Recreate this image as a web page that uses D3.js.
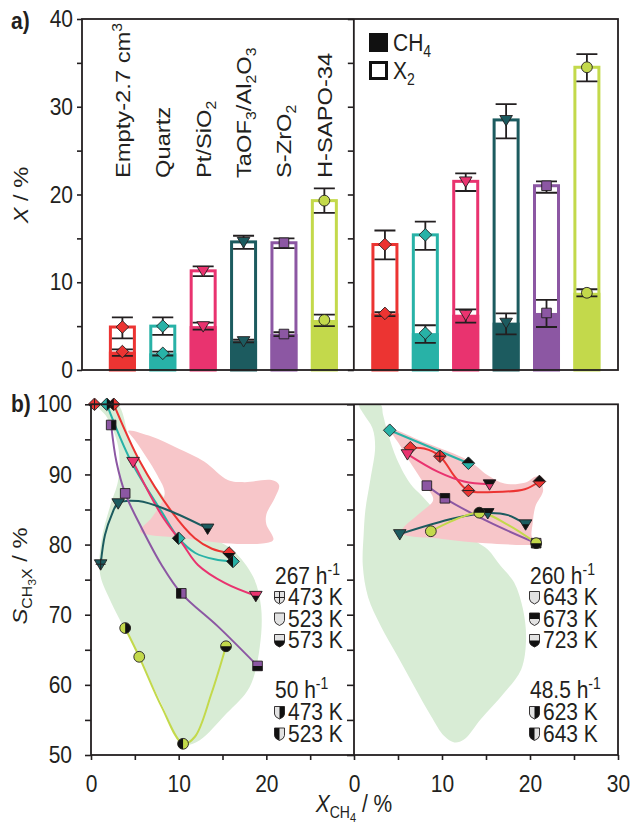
<!DOCTYPE html>
<html>
<head>
<meta charset="utf-8">
<script src="https://cdn.jsdelivr.net/npm/d3@7"></script>
<style>
  body { margin: 0; background: #fff; }
  svg { display: block; }
</style>
</head>
<body>
<svg id="chart" width="632" height="825"></svg>
<script>
// catalysts, colours and marker shapes (shared by panel a and b)
var catalysts = ["Empty-2.7 cm3", "Quartz", "Pt/SiO2", "TaOF3/Al2O3", "S-ZrO2", "H-SAPO-34"];
var catalystLabels = [
  [["Empty-2.7 cm"], ["3", "sup"]],
  [["Quartz"]],
  [["Pt/SiO"], ["2", "sub"]],
  [["TaOF"], ["3", "sub"], ["/Al"], ["2", "sub"], ["O"], ["3", "sub"]],
  [["S-ZrO"], ["2", "sub"]],
  [["H-SAPO-34"]]
];
var colors = ["#ec3432", "#28b2a7", "#e9336f", "#1c5b5f", "#8c57a3", "#c3d94b"];
var shapes = ["diamond", "diamond", "triangle", "triangle", "square", "circle"];

// panel a, low temperature (left) and high temperature (right) conversions
var lowX2 = [4.9, 5.0, 11.3, 14.6, 14.5, 19.3];
var lowX2Err = [[3.6, 6.0], [4.0, 6.0], [10.7, 11.8], [13.8, 15.3], [13.9, 15.0], [17.9, 20.7]];
var lowCH4 = [2.1, 1.9, 5.0, 3.3, 4.1, 5.7];
var lowCH4Err = [[1.6, 2.35], [1.65, 2.1], [4.6, 5.4], [3.15, 3.45], [3.85, 4.3], [5.0, 6.3]];

var highX2 = [14.3, 15.4, 21.5, 28.5, 21.0, 34.5];
var highX2Err = [[12.6, 15.9], [13.7, 16.9], [20.4, 22.4], [26.4, 30.3], [20.2, 21.5], [32.9, 36.0]];
var highCH4 = [6.45, 4.2, 6.3, 5.4, 6.5, 8.8];
var highCH4Err = [[6.15, 6.6], [3.1, 5.1], [5.4, 6.9], [4.05, 6.45], [4.9, 8.0], [8.4, 9.2]];

var aTicks = [0, 5, 10, 15, 20, 25, 30, 35, 40];

// panel b, measured points [X_CH4, S_CH3X, temperature pattern]
var lowPoints = [
  [[0.4, 100, "cross"], [2.6, 100, "left"], [15.75, 78.8, "bottom"]],
  [[1.8, 100, "right"], [10.0, 80.9, "left"], [16.2, 77.6, "left"]],
  [[4.8, 91.8, "plain"], [18.8, 72.7, "bottom"]],
  [[1.1, 77.2, "cross"], [3.1, 85.9, "plain"], [13.3, 82.3, "bottom"]],
  [[2.3, 97.05, "right"], [3.9, 87.3, "plain"], [10.3, 73.05, "left"], [19.0, 62.7, "bottom"]],
  [[3.9, 68.1, "right"], [5.5, 64.0, "plain"], [10.5, 51.6, "left"], [15.4, 65.5, "bottom"]]
];
// fitted guide curves
var lowCurves = [
  [[2.6, 100], [5.6, 91.8], [9.2, 84.7], [11.85, 80.9], [13.8, 79.4], [15.75, 78.8]],
  [[1.8, 100], [4.6, 91.8], [8.05, 84.7], [10.0, 80.9], [11.9, 78.8], [14.1, 77.9], [16.2, 77.6]],
  [[4.8, 91.8], [8.0, 84.3], [10.5, 80.0], [12.2, 77.1], [15.3, 74.5], [18.8, 72.7]],
  [[1.1, 77.2], [1.6, 81.4], [2.35, 84.2], [3.1, 85.9], [5.4, 86.2], [8.8, 84.9], [13.3, 82.3]],
  [[2.3, 97.05], [2.9, 91.8], [3.9, 87.3], [5.8, 82.3], [8.05, 77.1], [10.3, 73.05], [14.5, 68.3], [19.0, 62.7]],
  [[3.9, 68.1], [5.5, 64.0], [8.05, 56.9], [10.5, 51.6], [11.85, 52.6], [13.75, 58.8], [15.4, 65.5]]
];
var highPoints = [
  [[6.4, 93.8, "plain"], [9.76, 92.6, "cross"], [13.0, 87.7, "hline"], [21.07, 89.0, "top"]],
  [[4.06, 96.3, "plain"], [13.0, 91.6, "top"]],
  [[6.07, 92.9, "plain"], [15.4, 88.6, "top"]],
  [[5.2, 81.5, "plain"], [15.2, 84.5, "top"], [19.5, 82.9, "bottom"]],
  [[8.28, 88.4, "plain"], [10.33, 86.6, "top"], [20.7, 80.2, "bottom"]],
  [[8.73, 81.9, "plain"], [14.24, 84.55, "top"], [20.7, 80.2, "bottom"]]
];
var highCurves = [
  [[6.4, 93.8], [7.97, 93.7], [9.76, 92.6], [11.5, 89.6], [13.0, 87.7], [15.9, 87.5], [19.4, 87.9], [21.07, 89.0]],
  [[4.06, 96.3], [13.0, 91.6]],
  [[6.07, 92.9], [9.5, 90.4], [12.5, 89.0], [15.4, 88.6]],
  [[5.2, 81.5], [11.4, 83.75], [15.2, 84.5], [17.5, 84.2], [19.5, 82.9]],
  [[8.28, 88.4], [10.33, 86.6], [15.2, 83.3], [20.7, 80.2]],
  [[8.73, 81.9], [14.24, 84.55], [17.5, 82.8], [20.7, 80.2]]
];

// shaded regions of panel b
var lowGreen = [[0.6, 100], [3.0, 100], [4.3, 95.5], [5.4, 92.3], [7.1, 88.8], [8.3, 86.8], [11, 83], [14.5, 80.5],
  [16.2, 79.2], [18.5, 75.4], [19.4, 71.1], [19.25, 65.4], [18.1, 59.7], [15.45, 55.9], [12.4, 52.1], [10.9, 51.4],
  [10.2, 51.8], [7.86, 57.8], [5.96, 62.6], [4.07, 67.4], [2.17, 72.1], [1.02, 75.9], [1.2, 80.65], [2.16, 85.4],
  [3.1, 89.2], [3.1, 94], [1.8, 98.2]];
var lowPink = [[4.25, 96.2], [6.9, 95.4], [9.95, 93.7], [12.95, 91.8], [15.6, 89.2], [17.5, 88.9], [20.6, 89.2],
  [21.45, 88.5], [20.95, 86.6], [20.0, 84.3], [20.0, 82.9], [20.8, 80.7], [19.8, 80.2], [15.26, 80.2], [10.7, 80.9],
  [5.6, 81.9], [6.9, 83.8], [8.4, 87.2], [7.6, 89.8], [6.3, 92.5], [5.0, 94.9]];
var highGreen = [[0.6, 100], [3.0, 100], [3.3, 98.5], [3.8, 96.1], [4.9, 92.1], [6.45, 88.6], [7.6, 87.1], [10, 84],
  [14.05, 80.3], [15.2, 79.3], [16.7, 76.9], [18.2, 74.6], [19.2, 70.8], [19.55, 66.5], [19.0, 62.2], [17.1, 58.9],
  [14.4, 55.1], [12.5, 52.2], [11.4, 51.8], [10.25, 52.7], [8.73, 55.6], [6.83, 59.8], [4.94, 64.1], [3.04, 68.4],
  [1.6, 72.5], [1.0, 77], [1.1, 81.5], [1.3, 85], [1.85, 89.2], [2.4, 93.9], [2.1, 96.6], [1.1, 98.6]];
var highPink = [[4.2, 96.4], [8, 94.6], [13, 92.0], [15.2, 89.9], [17.1, 88.7], [19.4, 88.8], [20.8, 89.7],
  [21.5, 87.8], [20.6, 85.4], [20.3, 83], [20.2, 81.1], [20.7, 80.2], [15, 80.2], [10, 80.8], [5.3, 81.6],
  [5.6, 82.4], [7.5, 84.5], [9.0, 86.4], [8.0, 88.6], [6.5, 91.5], [5.2, 94.2]];

var bTicksY = [50, 55, 60, 65, 70, 75, 80, 85, 90, 95, 100];
var bTicksX = [0, 5, 10, 15, 20, 25, 30];

var legendLow = { head: "267 h", items: [["473 K", "cross"], ["523 K", "plain"], ["573 K", "bottom"]],
                  head2: "50 h", items2: [["473 K", "right"], ["523 K", "left"]] };
var legendHigh = { head: "260 h", items: [["643 K", "plain"], ["673 K", "top"], ["723 K", "bottom"]],
                   head2: "48.5 h", items2: [["623 K", "right"], ["643 K", "left"]] };

// ---------------------------------------------------------------
var FONT = "'Liberation Sans', Arial, Helvetica, sans-serif";
var INK = "#231f20";
var VS = 1.13;   // the figure's lettering is a little taller than wide
var svg = d3.select("#chart").style("font-family", FONT);

var SHIFT = { "": 0, sub: 5, sup: -8, subsub: 9 };
var SIZE = { "": 21, sub: 14, sup: 14, subsub: 11 };
function rich(sel, parts) {
  var cur = 0;
  parts.forEach(function(p) {
    var kind = p[1] || "";
    var t = sel.append("tspan").attr("dy", SHIFT[kind] - cur).attr("font-size", SIZE[kind]).text(p[0]);
    if (p[2]) t.attr("font-style", "italic");
    cur = SHIFT[kind];
  });
  return sel;
}
// text placed at x,y, stretched vertically, optionally turned
function label(parent, x, y, rot) {
  return parent.append("text")
    .attr("transform", "translate(" + x + "," + y + ") scale(1," + VS + ")" + (rot ? " rotate(" + rot + ")" : ""))
    .attr("fill", INK).attr("font-size", 21);
}

var defs = svg.append("defs");
[["top", -20, -20, 40, 20], ["bottom", -20, 0, 40, 20], ["left", -20, -20, 20, 40], ["right", 0, -20, 20, 40]]
  .forEach(function(c) {
    defs.append("clipPath").attr("id", "half-" + c[0]).attr("clipPathUnits", "userSpaceOnUse")
      .append("rect").attr("x", c[1]).attr("y", c[2]).attr("width", c[3]).attr("height", c[4]);
  });

function shapeD(shape) {
  var r = 6.3;
  if (shape === "diamond") return "M0," + (-r) + "L" + r + ",0L0," + r + "L" + (-r) + ",0Z";
  if (shape === "triangle") return "M" + (-r) + "," + (-r * 0.7) + "L" + r + "," + (-r * 0.7) + "L0," + (r * 0.95) + "Z";
  if (shape === "square") { var s = 4.8; return "M" + (-s) + "," + (-s) + "H" + s + "V" + s + "H" + (-s) + "Z"; }
  if (shape === "circle") { var c = 5.4; return "M" + c + ",0A" + c + "," + c + " 0 1,1 " + (-c) + ",0A" + c + "," + c + " 0 1,1 " + c + ",0Z"; }
  return "M-5,-6H5V1.5Q5,4.5 0,6.5Q-5,4.5 -5,1.5Z"; // legend shield
}

function drawMarker(parent, x, y, shape, color, pattern) {
  var m = parent.append("g").attr("transform", "translate(" + x + "," + y + ")");
  var d = shapeD(shape);
  m.append("path").attr("d", d).attr("fill", color);
  if (["top", "bottom", "left", "right"].indexOf(pattern) >= 0) {
    m.append("path").attr("d", d).attr("fill", "#111").attr("clip-path", "url(#half-" + pattern + ")");
  }
  if (pattern === "cross") m.append("path").attr("d", "M-5,0H5M0,-5.5V5.5").attr("stroke", INK).attr("stroke-width", 1);
  if (pattern === "hline") m.append("path").attr("d", "M-6,0H6").attr("stroke", INK).attr("stroke-width", 1);
  m.append("path").attr("d", d).attr("fill", "none").attr("stroke", INK).attr("stroke-width", 0.9);
}

function styleAxis(g) {
  g.select(".domain").remove();
  g.selectAll(".tick line").attr("stroke", INK).attr("stroke-width", 1.6);
  g.selectAll(".tick text").attr("fill", INK).attr("font-size", 21).attr("font-family", FONT)
    .attr("transform", "scale(1," + VS + ")");
}

// ================= panel a =================
var aSlot = d3.scaleLinear().domain([0, 13.27]).range([82, 618]);
var aY = d3.scaleLinear().domain([0, 40]).range([370, 19]);
var aDivider = 6.73;
var barW = 27;

var gA = svg.append("g");

function drawBars(x2, x2Err, ch4, ch4Err, slotOf) {
  catalysts.forEach(function(name, i) {
    var cx = aSlot(slotOf(i));
    gA.append("rect").attr("x", cx - barW / 2 + 1.5).attr("width", barW - 3)
      .attr("y", aY(x2[i])).attr("height", aY(0) - aY(x2[i]))
      .attr("fill", "#fff").attr("stroke", colors[i]).attr("stroke-width", 3);
    gA.append("rect").attr("x", cx - barW / 2).attr("width", barW)
      .attr("y", aY(ch4[i])).attr("height", aY(0) - aY(ch4[i])).attr("fill", colors[i]);
    [x2Err[i], ch4Err[i]].forEach(function(e) {
      gA.append("path")
        .attr("d", "M" + cx + "," + aY(e[0]) + "V" + aY(e[1]) +
                   "M" + (cx - 10.5) + "," + aY(e[0]) + "H" + (cx + 10.5) +
                   "M" + (cx - 10.5) + "," + aY(e[1]) + "H" + (cx + 10.5))
        .attr("stroke", INK).attr("stroke-width", 1.8).attr("fill", "none");
    });
    drawMarker(gA, cx, aY(x2[i]), shapes[i], colors[i], "plain");
    drawMarker(gA, cx, aY(ch4[i]), shapes[i], colors[i], "plain");
  });
}
drawBars(lowX2, lowX2Err, lowCH4, lowCH4Err, function(i) { return i + 1; });
drawBars(highX2, highX2Err, highCH4, highCH4Err, function(i) { return i + 7.5; });

// catalyst names (vertical)
catalystLabels.forEach(function(parts, i) {
  rich(label(gA, aSlot(i + 1) + 7.5, 178, -90), parts);
});

// legend
gA.append("rect").attr("x", 369).attr("y", 33).attr("width", 19).attr("height", 19).attr("fill", "#111");
gA.append("rect").attr("x", 370.5).attr("y", 62.5).attr("width", 16).attr("height", 16)
  .attr("fill", "#fff").attr("stroke", "#111").attr("stroke-width", 3);
rich(label(gA, 393, 51), [["CH"], ["4", "sub"]]);
rich(label(gA, 393, 79), [["X"], ["2", "sub"]]);

// axes and frame
var aLeft = gA.append("g").attr("transform", "translate(82,0)")
  .call(d3.axisLeft(aY).tickValues(aTicks).tickSize(5).tickPadding(4)
    .tickFormat(function(d) { return d % 10 === 0 ? d : ""; }));
styleAxis(aLeft);
var aMid = gA.append("g").attr("transform", "translate(" + aSlot(aDivider) + ",0)")
  .call(d3.axisLeft(aY).tickValues(aTicks).tickSize(6).tickFormat(""));
styleAxis(aMid);
gA.append("rect").attr("x", aSlot(0)).attr("y", aY(40)).attr("width", aSlot(13.27) - aSlot(0))
  .attr("height", aY(0) - aY(40)).attr("fill", "none").attr("stroke", INK).attr("stroke-width", 1.8);
gA.append("line").attr("x1", aSlot(aDivider)).attr("x2", aSlot(aDivider)).attr("y1", aY(40)).attr("y2", aY(0))
  .attr("stroke", INK).attr("stroke-width", 1.8);

rich(label(gA, 28, 195, -90).attr("text-anchor", "middle"), [["X", "", true], [" / %"]]);
label(gA, 11, 29).attr("font-weight", "bold").text("a)");

// ================= panel b =================
var bY = d3.scaleLinear().domain([50, 100]).range([755, 404.3]);
var bXL = d3.scaleLinear().domain([0, 30]).range([91, 354]);
var bXR = d3.scaleLinear().domain([0, 30]).range([354, 618]);

var gB = svg.append("g");
defs.append("clipPath").attr("id", "clipL").append("rect")
  .attr("x", bXL(0)).attr("y", bY(100)).attr("width", bXL(30) - bXL(0)).attr("height", bY(50) - bY(100));
defs.append("clipPath").attr("id", "clipR").append("rect")
  .attr("x", bXR(0)).attr("y", bY(100)).attr("width", bXR(30) - bXR(0)).attr("height", bY(50) - bY(100));

function drawHalf(xs, clipId, green, pink, curves, points) {
  var g = gB.append("g");
  var shade = g.append("g").attr("clip-path", "url(#" + clipId + ")");
  var area = d3.line().curve(d3.curveCatmullRomClosed.alpha(0.5))
    .x(function(d) { return xs(d[0]); }).y(function(d) { return bY(d[1]); });
  shade.append("path").attr("d", area(green)).attr("fill", "#d8ecd5");
  shade.append("path").attr("d", area(pink)).attr("fill", "#f7c6c9");
  var line = d3.line().curve(d3.curveCatmullRom.alpha(0.5))
    .x(function(d) { return xs(d[0]); }).y(function(d) { return bY(d[1]); });
  curves.forEach(function(c, i) {
    g.append("path").attr("d", line(c)).attr("fill", "none").attr("stroke", colors[i]).attr("stroke-width", 2);
  });
  points.forEach(function(ps, i) {
    ps.forEach(function(p) { drawMarker(g, xs(p[0]), bY(p[1]), shapes[i], colors[i], p[2]); });
  });
}
drawHalf(bXL, "clipL", lowGreen, lowPink, lowCurves, lowPoints);
drawHalf(bXR, "clipR", highGreen, highPink, highCurves, highPoints);

function drawLegend(lg, x0) {
  var g = gB.append("g");
  function head(txt, y) { rich(label(g, x0, y), [[txt], ["-1", "sup"]]); }
  function item(it, y) {
    drawMarker(g, x0 + 4.5, y - 7.5, "shield", "#e2e2e2", it[1]);
    label(g, x0 + 13, y).text(it[0]);
  }
  head(lg.head, 584);
  lg.items.forEach(function(it, k) { item(it, 605 + k * 21.5); });
  head(lg.head2, 698);
  lg.items2.forEach(function(it, k) { item(it, 720 + k * 21.5); });
}
drawLegend(legendLow, 275);
drawLegend(legendHigh, 530);

// axes and frame
var bLeft = gB.append("g").attr("transform", "translate(" + bXL(0) + ",0)")
  .call(d3.axisLeft(bY).tickValues(bTicksY).tickSize(6).tickPadding(13)
    .tickFormat(function(d) { return d % 10 === 0 ? d : ""; }));
styleAxis(bLeft);
var bMid = gB.append("g").attr("transform", "translate(" + bXR(0) + ",0)")
  .call(d3.axisLeft(bY).tickValues(bTicksY).tickSize(7).tickFormat(""));
styleAxis(bMid);
var bBotL = gB.append("g").attr("transform", "translate(0," + bY(50) + ")")
  .call(d3.axisBottom(bXL).tickValues(bTicksX.slice(0, 6)).tickSize(5).tickPadding(13)
    .tickFormat(function(d) { return d % 10 === 0 ? d : ""; }));
styleAxis(bBotL);
var bBotR = gB.append("g").attr("transform", "translate(0," + bY(50) + ")")
  .call(d3.axisBottom(bXR).tickValues(bTicksX).tickSize(5).tickPadding(13)
    .tickFormat(function(d) { return d % 10 === 0 ? d : ""; }));
styleAxis(bBotR);
gB.append("rect").attr("x", bXL(0)).attr("y", bY(100)).attr("width", bXR(30) - bXL(0))
  .attr("height", bY(50) - bY(100)).attr("fill", "none").attr("stroke", INK).attr("stroke-width", 1.8);
gB.append("line").attr("x1", bXR(0)).attr("x2", bXR(0)).attr("y1", bY(100)).attr("y2", bY(50))
  .attr("stroke", INK).attr("stroke-width", 1.8);

rich(label(gB, 27, 576, -90).attr("text-anchor", "middle"),
  [["S", "", true], ["CH", "sub"], ["3", "subsub"], ["X", "sub"], [" / %"]]);
rich(label(gB, bXR(0), 812).attr("text-anchor", "middle"),
  [["X", "", true], ["CH", "sub"], ["4", "subsub"], [" / %"]]);
label(gB, 11, 412).attr("font-weight", "bold").text("b)");
</script>
</body>
</html>
